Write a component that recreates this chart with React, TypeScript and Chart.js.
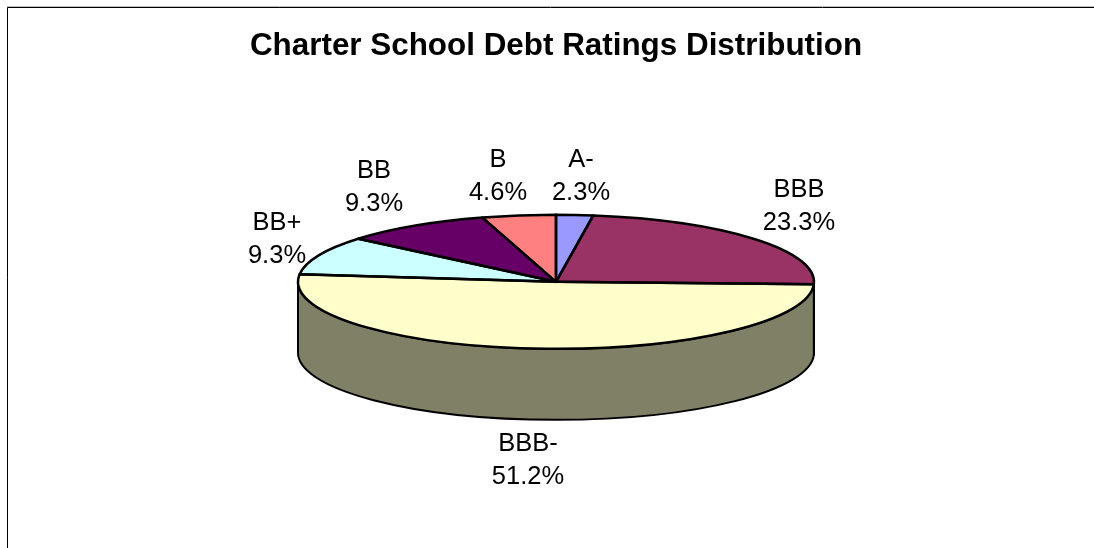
import React, { useEffect, useRef } from "react";
import { Chart, registerables } from "chart.js";

Chart.register(...registerables);

const categories = ["A-", "BBB", "BBB-", "BB+", "BB", "B"];
const shares = [2.3, 23.3, 51.2, 9.3, 9.3, 4.6];
const percentLabels = ["2.3%", "23.3%", "51.2%", "9.3%", "9.3%", "4.6%"];
const sliceColors = ["#9999FF", "#993366", "#FFFFCC", "#CCFFFF", "#660066", "#FF8080"];
const sideColors = ["#4C4C80", "#4C1933", "#808066", "#668080", "#330033", "#804040"];
const titleText = "Charter School Debt Ratings Distribution";
const labelPositions = [
  [581, 167],
  [799, 197],
  [528, 451],
  [277, 230],
  [374, 178],
  [498, 167],
];

const RX = 258;
const RY = 67;
const DEPTH = 71;

const pie3d = {
  id: "pie3d",
  beforeDatasetsDraw(chart: any) {
    const { ctx } = chart;
    const arcs = chart.getDatasetMeta(0).data;
    const cx = arcs[0].x;
    const cy = arcs[0].y;
    ctx.save();
    ctx.lineWidth = 2;
    ctx.strokeStyle = "#000";
    arcs.forEach((a: any, i: number) => {
      const s = Math.max(a.startAngle, 0);
      const e = Math.min(a.endAngle, Math.PI);
      if (e <= s) return;
      ctx.beginPath();
      ctx.ellipse(cx, cy, RX, RY, 0, s, e);
      ctx.ellipse(cx, cy + DEPTH, RX, RY, 0, e, s, true);
      ctx.closePath();
      ctx.fillStyle = sideColors[i];
      ctx.fill();
      ctx.stroke();
    });
    ctx.restore();
  },
  beforeDatasetDraw(chart: any) {
    const { ctx } = chart;
    const cy = chart.getDatasetMeta(0).data[0].y;
    ctx.save();
    ctx.translate(0, cy);
    ctx.scale(1, RY / RX);
    ctx.translate(0, -cy);
  },
  afterDatasetDraw(chart: any) {
    const { ctx } = chart;
    ctx.restore();
    const arcs = chart.getDatasetMeta(0).data;
    const cx = arcs[0].x;
    const cy = arcs[0].y;
    ctx.save();
    ctx.lineWidth = 2.5;
    ctx.strokeStyle = "#000";
    ctx.lineJoin = "round";
    arcs.forEach((a: any) => {
      ctx.beginPath();
      ctx.moveTo(cx, cy);
      ctx.ellipse(cx, cy, RX, RY, 0, a.startAngle, a.endAngle);
      ctx.closePath();
      ctx.stroke();
    });
    ctx.restore();
  },
  afterDraw(chart: any) {
    const { ctx, width, height } = chart;
    ctx.save();
    ctx.strokeStyle = "#BBBBBB";
    ctx.lineWidth = 1;
    ctx.beginPath();
    ctx.moveTo(7, 6.5);
    ctx.lineTo(width, 6.5);
    ctx.stroke();
    ctx.strokeStyle = "#000";
    ctx.beginPath();
    ctx.moveTo(7.5, height);
    ctx.lineTo(7.5, 7.5);
    ctx.lineTo(width, 7.5);
    ctx.stroke();
    ctx.fillStyle = "#000";
    ctx.font = '25.5px "Liberation Sans"';
    ctx.textAlign = "center";
    ctx.textBaseline = "alphabetic";
    categories.forEach((c, i) => {
      const [x, y] = labelPositions[i];
      ctx.fillText(c, x, y);
      ctx.fillText(percentLabels[i], x, y + 33);
    });
    ctx.restore();
  },
};

export default function App() {
  const ref = useRef<HTMLCanvasElement>(null);
  useEffect(() => {
    document.body.style.margin = "0";
    document.body.style.background = "#fff";
    const chart = new Chart(ref.current!, {
      type: "pie",
      data: {
        labels: categories,
        datasets: [{ data: shares, backgroundColor: sliceColors, borderWidth: 0 }],
      },
      options: {
        responsive: false,
        animation: false,
        radius: RX,
        layout: { padding: { left: 18, bottom: 50 } },
        plugins: {
          legend: { display: false },
          tooltip: { enabled: false },
          title: {
            display: true,
            text: titleText,
            color: "#000",
            font: { family: '"Liberation Sans"', size: 31.4, weight: "bold" },
            padding: { top: 28, bottom: 0 },
          },
        },
      } as any,
      plugins: [pie3d],
    });
    return () => chart.destroy();
  }, []);
  return <canvas ref={ref} width={1094} height={548} style={{ display: "block" }} />;
}
